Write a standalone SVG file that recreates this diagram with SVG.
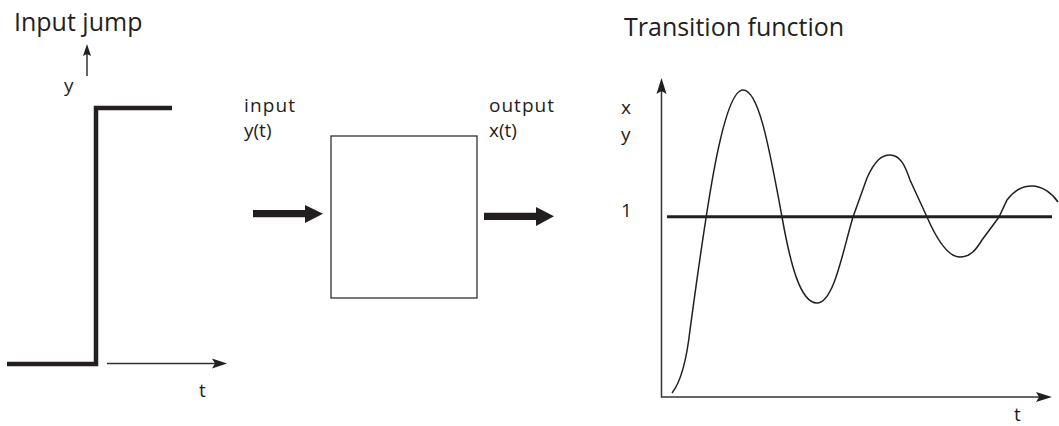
<svg xmlns="http://www.w3.org/2000/svg" width="1059" height="426" viewBox="0 0 1059 426">
<style>
text{font-family:"Open Sans","Noto Sans","Liberation Sans",sans-serif;fill:#231f20}
.title{font-size:25px}
.lbl{font-size:19px}
.axis{stroke:#333;stroke-width:1.5;fill:none}
.head{fill:#231f20;stroke:none}
.step{stroke:#231f20;stroke-width:4.5;fill:none}
</style>
<rect width="1059" height="426" fill="#fff"/>
<g id="input-jump">
<text class="title" x="14" y="31">Input jump</text>
<text class="lbl" x="64" y="92">y</text>
<line class="axis" x1="87" y1="76" x2="87" y2="52"/>
<path class="head" d="M87,44 L91,56 L87,54 L83,56 Z"/>
<path class="step" d="M7,364 L96,364 L96,108 L172,108"/>
<line class="axis" x1="107" y1="363.5" x2="216" y2="363.5"/>
<path class="head" d="M227,363.5 L212,358.5 L215,363.5 L212,368.5 Z"/>
<text class="lbl" x="199" y="397">t</text>
</g>
<g id="system">
<rect x="331" y="136" width="146" height="162" fill="none" stroke="#231f20" stroke-width="1.2"/>
<text class="lbl" x="244" y="112" textLength="51">input</text>
<text class="lbl" x="244" y="137">y(t)</text>
<text class="lbl" x="489" y="112" textLength="65">output</text>
<text class="lbl" x="489" y="137">x(t)</text>
</g>
<g id="connectors">
<line x1="253" y1="213.7" x2="306" y2="213.7" stroke="#231f20" stroke-width="7.3"/>
<path class="head" d="M305,205 L323,213.7 L305,223 Z"/>
<line x1="484" y1="216.3" x2="537" y2="216.3" stroke="#231f20" stroke-width="7.3"/>
<path class="head" d="M536,207 L554,216.3 L536,226 Z"/>
</g>
<g id="transition-function">
<text class="title" x="624" y="36">Transition function</text>
<text class="lbl" x="621" y="114">x</text>
<text class="lbl" x="621" y="141">y</text>
<text class="lbl" x="621" y="217">1</text>
<path class="axis" d="M661.5,90 L661.5,397 L1040,397"/>
<path class="head" d="M661.5,78 L666.5,94 L661.5,91 L656.5,94 Z"/>
<path class="head" d="M1052,397 L1036,392 L1039,397 L1036,402 Z"/>
<line x1="667" y1="216.7" x2="1052" y2="216.7" stroke="#231f20" stroke-width="3"/>
<path fill="none" stroke="#231f20" stroke-width="1.5" d="M672,393 C680,383 686,365 690,330 C705,220 722,90 743,90 C758,90 768,140 782,217 C790,262 800,303 817,303 C834,303 843,250 853,217 L867,178 C875,160 882,155 890,155 C900,155 905,165 910,180 L927,217 C937,240 948,257 960,257 C970,257 976,250 982,240 L999,217 L1007,200 C1015,190 1022,186 1032,186 C1042,186 1052,193 1058,202"/>
<text class="lbl" x="1014" y="421">t</text>
</g>
</svg>
